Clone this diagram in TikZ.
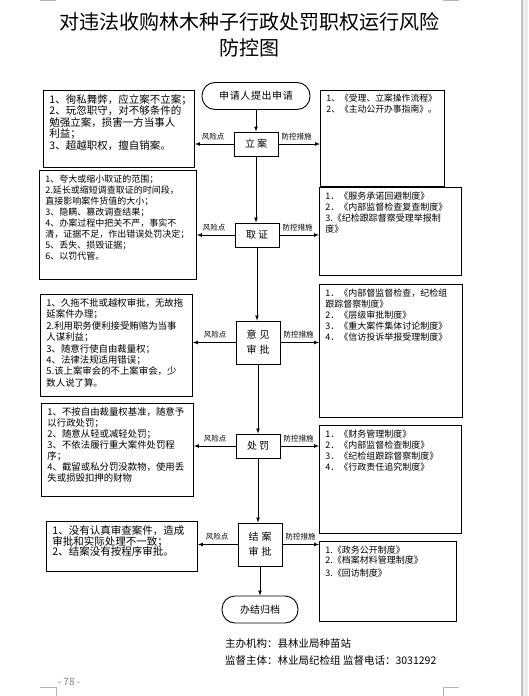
\documentclass[tikz,border=0pt]{standalone}
\usepackage{fontspec}
\setmainfont{Noto Sans CJK SC}
\newcommand{\sidetext}[5]{\fontsize{#1}{#2}\selectfont\parbox[t][#3][t]{#4}{\raggedright #5}}

\begin{document}
\begin{tikzpicture}[x=1pt,y=-1pt]
\tikzstyle{stage} = [draw, line width=0.9pt, minimum width=44pt, minimum height=24pt, inner sep=1pt, font=\fontsize{10}{15}\selectfont, align=center];
\tikzstyle{ends} = [stage, rounded corners=13pt, minimum width=108pt, minimum height=27pt];
\tikzstyle{side} = [draw, line width=0.9pt, anchor=north west, inner xsep=6pt, inner ysep=4pt];
\tikzstyle{tag} = [font=\fontsize{7.5}{8}\selectfont, inner sep=0pt];
\tikzstyle{flow} = [->, >=latex, line width=0.7pt];

\useasboundingbox (0,0) rectangle (528,696);

% title
\node[font=\fontsize{20}{26}\selectfont, align=center] (title) at (249,35) {对违法收购林木种子行政处罚职权运行风险\\防控图};

% main flow
\node[ends] (start) at (256,96) {申\hspace{0.6pt}请\hspace{0.6pt}人\hspace{0.6pt}提\hspace{0.6pt}出\hspace{0.6pt}申\hspace{0.6pt}请};
\node[stage] (s-1) at (256,144) {立\hspace{2pt}案};
\node[stage] (s-2) at (257,235) {取\hspace{2pt}证};
\node[stage, minimum height=43pt] (s-3) at (258,342.5) {意\hspace{3pt}见\\审\hspace{3pt}批};
\node[stage] (s-4) at (258,446) {处\hspace{2pt}罚};
\node[stage, minimum height=43pt] (s-5) at (260,544.5) {结\hspace{3pt}案\\审\hspace{3pt}批};
\node[ends, minimum width=76pt] (finish) at (260,609.5) {办结归档};

% risk points
\node[side] (r-1) at (43,90) {\sidetext{10.5}{11.5}{69pt}{139pt}{1、徇私舞弊，应立案不立案；\\2、玩忽职守，对不够条件的\\勉强立案，损害一方当事人\\利益；\\3、超越职权，擅自销案。}};
\node[side] (r-2) at (39,170) {\sidetext{9}{11}{101pt}{145pt}{1、夸大或缩小取证的范围；\\2.延长或缩短调查取证的时间段，\\直接影响案件货值的大小；\\3、隐瞒、篡改调查结果；\\4、办案过程中把关不严，事实不\\清，证据不足，作出错误处罚决定；\\5、丢失、损毁证据；\\6、以罚代管。}};
\node[side] (r-3) at (40,294) {\sidetext{9.4}{11.4}{94pt}{140pt}{1、久拖不批或越权审批，无故拖\\延案件办理；\\2.利用职务便利接受贿赂为当事\\人谋利益；\\3、随意行使自由裁量权；\\4、法律法规适用错误；\\5.该上案审会的不上案审会，少\\数人说了算。}};
\node[side] (r-4) at (41,403) {\sidetext{9.4}{11}{85pt}{140pt}{1、不按自由裁量权基准，随意予\\以行政处罚；\\2、随意从轻或减轻处罚；\\3、不依法履行重大案件处罚程\\序；\\4、截留或私分罚没款物，使用丢\\失或损毁扣押的财物}};
\node[side] (r-5) at (46,521) {\sidetext{10.5}{10.7}{42pt}{139pt}{1、没有认真审查案件，造成\\审批和实际处理不一致；\\2、结案没有按程序审批。}};

% control measures
\node[side] (c-1) at (320,90) {\sidetext{8.8}{11}{88pt}{112pt}{1、《受理、立案操作流程》\\2、《主动公开办事指南》。}};
\node[side] (c-2) at (319,187) {\sidetext{9}{11}{80pt}{130pt}{1．《服务承诺回避制度》\\2．《内部监督检查复查制度》\\3.《纪检跟踪督察受理举报制\\度》}};
\node[side] (c-3) at (319,284) {\sidetext{9}{11}{125pt}{131pt}{1．《内部督监督检查，纪检组\\跟踪督察制度》\\2．《层级审批制度》\\3．《重大案件集体讨论制度》\\4．《信访投诉举报受理制度》}};
\node[side] (c-4) at (319,425) {\sidetext{9}{11}{100pt}{130pt}{1．《财务管理制度》\\2．《内部监督检查制度》\\3．《纪检组跟踪督察制度》\\4．《行政责任追究制度》}};
\node[side] (c-5) at (319,541) {\sidetext{9}{10.5}{72pt}{125pt}{1.《政务公开制度》\\2.《档案材料管理制度》\\[2pt]3.《回访制度》}};

% connectors
\foreach \a/\b in {start/s-1,s-1/s-2,s-2/s-3,s-3/s-4,s-4/s-5,s-5/finish}
	\draw[flow] (\a.south) -- (\a.south |- \b.north);

\foreach \i in {1,...,5} {
	\draw[flow] (s-\i.west) -- (s-\i.west -| r-\i.east);
	\draw[flow] (s-\i.east) -- (s-\i.east -| c-\i.west);
	\node[tag, anchor=south east] (rt-\i) at ([xshift=-9pt,yshift=4pt]s-\i.west) {风险点};
	\node[tag, anchor=south west] (ct-\i) at ([xshift=3pt,yshift=4pt]s-\i.east) {防控措施};
}

% footer
\node[anchor=west, inner sep=0pt, font=\fontsize{10.5}{12}\selectfont] (host) at (225,644) {主办机构：县林业局种苗站};
\node[anchor=west, inner sep=0pt, font=\fontsize{10.5}{12}\selectfont] (watch) at (225,660) {监督主体：林业局纪检组 监督电话：3031292};
\node[text=gray, font=\fontsize{10}{12}\selectfont] (page) at (69,682) {- 78 -};

% page marks
\draw[gray!60, line width=0.8pt] (40,0.5) -- (56,0.5);
\draw[gray!60, line width=0.8pt] (443,0.5) -- (459,0.5);
\draw[gray!60, line width=0.8pt] (40,687) -- (56,687) -- (56,696);
\draw[gray!60, line width=0.8pt] (459,687) -- (443,687) -- (443,696);
\fill[gray!15] (523,0) rectangle (528,696);
\draw[gray!50, line width=1.5pt] (522,0) -- (522,696);
\end{tikzpicture}
\end{document}
